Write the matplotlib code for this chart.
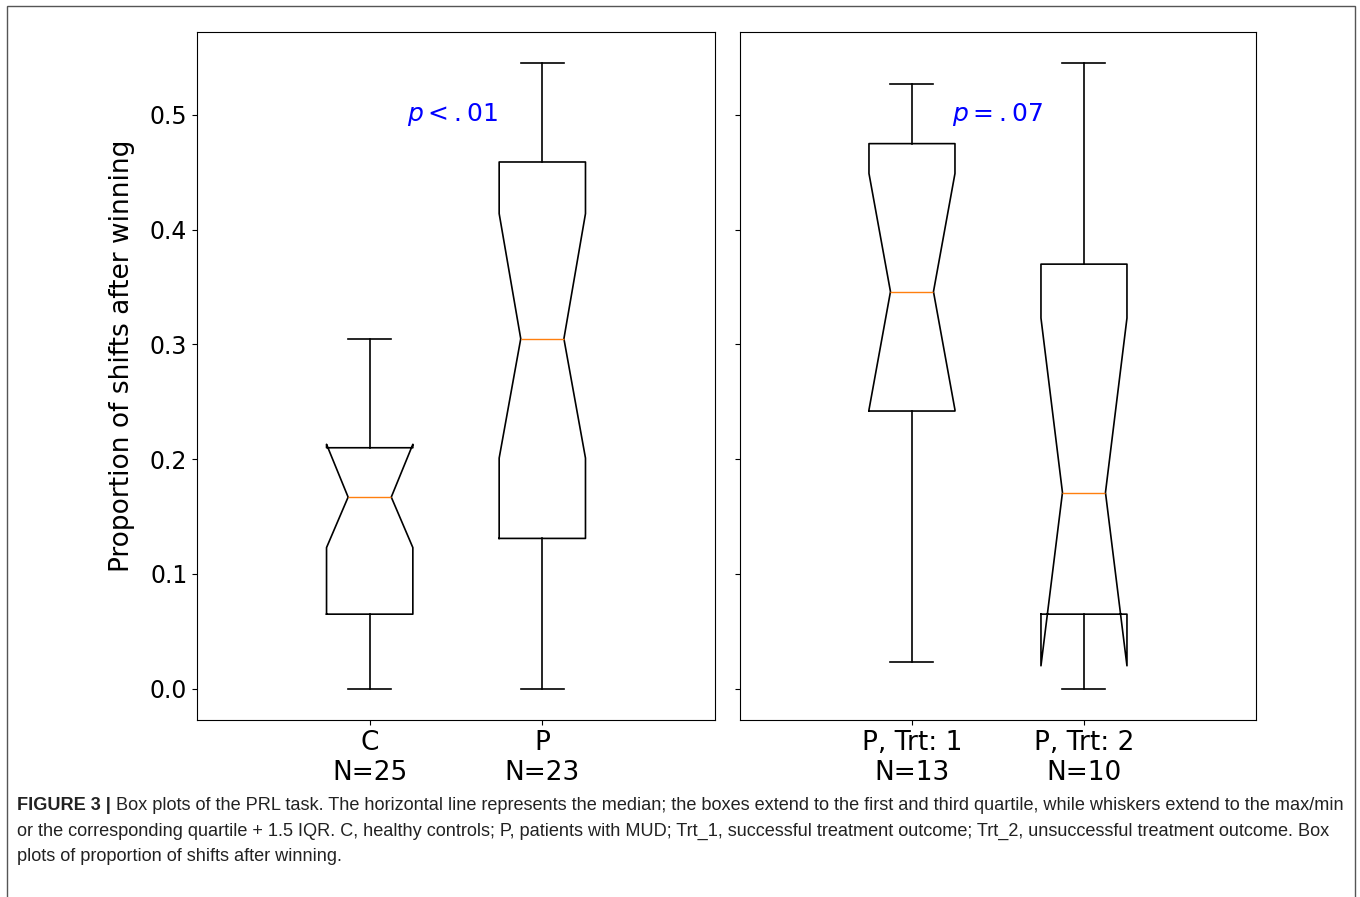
import matplotlib
matplotlib.use('Agg')
import matplotlib.pyplot as plt
from matplotlib.patches import Rectangle

# Box statistics (proportion of shifts after winning)
groups_left = ['C\nN=25', 'P\nN=23']
groups_right = ['P, Trt: 1\nN=13', 'P, Trt: 2\nN=10']

whislo_left = [0.0, 0.0]
q1_left = [0.065, 0.131]
med_left = [0.167, 0.305]
q3_left = [0.210, 0.459]
whishi_left = [0.305, 0.545]
cilo_left = [0.123, 0.201]
cihi_left = [0.213, 0.414]

whislo_right = [0.023, 0.0]
q1_right = [0.242, 0.065]
med_right = [0.346, 0.171]
q3_right = [0.475, 0.370]
whishi_right = [0.527, 0.545]
cilo_right = [0.243, 0.020]
cihi_right = [0.449, 0.323]

p_left = r'$p < .01$'
p_right = r'$p = .07$'

caption_bold = 'FIGURE 3 | '
caption_lines = [
    'Box plots of the PRL task. The horizontal line represents the median; the boxes extend to the first and third quartile, while whiskers extend to the max/min',
    'or the corresponding quartile + 1.5 IQR. C, healthy controls; P, patients with MUD; Trt_1, successful treatment outcome; Trt_2, unsuccessful treatment outcome. Box',
    'plots of proportion of shifts after winning.',
]


def make_stats(labels, wlo, q1, med, q3, whi, clo, chi):
    stats = []
    for i in range(len(labels)):
        stats.append({'label': labels[i], 'whislo': wlo[i], 'q1': q1[i], 'med': med[i],
                      'q3': q3[i], 'whishi': whi[i], 'cilo': clo[i], 'cihi': chi[i],
                      'fliers': []})
    return stats


fig = plt.figure(figsize=(13.6, 8.97), dpi=100)
ax1 = fig.add_axes([0.1449, 0.1973, 0.3808, 0.7670])
ax2 = fig.add_axes([0.5441, 0.1973, 0.3794, 0.7670], sharey=ax1)

box_style = dict(linewidth=1.2)
ax1.bxp(make_stats(groups_left, whislo_left, q1_left, med_left, q3_left,
                   whishi_left, cilo_left, cihi_left),
        positions=[1, 2], widths=0.5, shownotches=True, showfliers=False,
        boxprops=box_style, whiskerprops=box_style, capprops=box_style)
ax2.bxp(make_stats(groups_right, whislo_right, q1_right, med_right, q3_right,
                   whishi_right, cilo_right, cihi_right),
        positions=[1, 2], widths=0.5, shownotches=True, showfliers=False,
        boxprops=box_style, whiskerprops=box_style, capprops=box_style)

for ax in (ax1, ax2):
    ax.set_xlim(0, 3)
    ax.tick_params(axis='x', labelsize=19)
    ax.tick_params(axis='y', labelsize=17)
plt.setp(ax2.get_yticklabels(), visible=False)
ax1.set_yticks([0.0, 0.1, 0.2, 0.3, 0.4, 0.5])
ax1.set_ylabel('Proportion of shifts after winning', fontsize=19)
ax1.yaxis.set_label_coords(-0.12, 0.529)

ax1.text(1.48, 0.5, p_left, color='blue', fontsize=18, ha='center', va='center')
ax2.text(1.5, 0.5, p_right, color='blue', fontsize=18, ha='center', va='center')

# outer frame of the figure panel
fig.patches.append(Rectangle((7 / 1360, -0.01), 1348 / 1360, 1 - 6 / 897 + 0.01,
                             transform=fig.transFigure, fill=False,
                             edgecolor='#555555', linewidth=1.0))

# caption, sized so the first line spans the panel like the original
cap_font = ['Liberation Sans', 'DejaVu Sans']
x0 = 17 / 1360
ys = [1 - 805 / 897, 1 - 831 / 897, 1 - 856 / 897]
size = 12
bold = fig.text(x0, ys[0], caption_bold, fontsize=size, fontweight='bold',
                family=cap_font, va='center', color='#222222')
first = fig.text(x0, ys[0], caption_lines[0], fontsize=size, family=cap_font,
                 va='center', color='#222222')
fig.canvas.draw()
r = fig.canvas.get_renderer()
total = bold.get_window_extent(r).width + first.get_window_extent(r).width
size = size * 1326 / total
bold.set_fontsize(size)
first.set_fontsize(size)
fig.canvas.draw()
first.set_x(bold.get_window_extent(r).x1 / 1360)
fig.text(x0, ys[1], caption_lines[1], fontsize=size, family=cap_font, va='center', color='#222222')
fig.text(x0, ys[2], caption_lines[2], fontsize=size, family=cap_font, va='center', color='#222222')

plt.savefig('out.png', dpi=100)
